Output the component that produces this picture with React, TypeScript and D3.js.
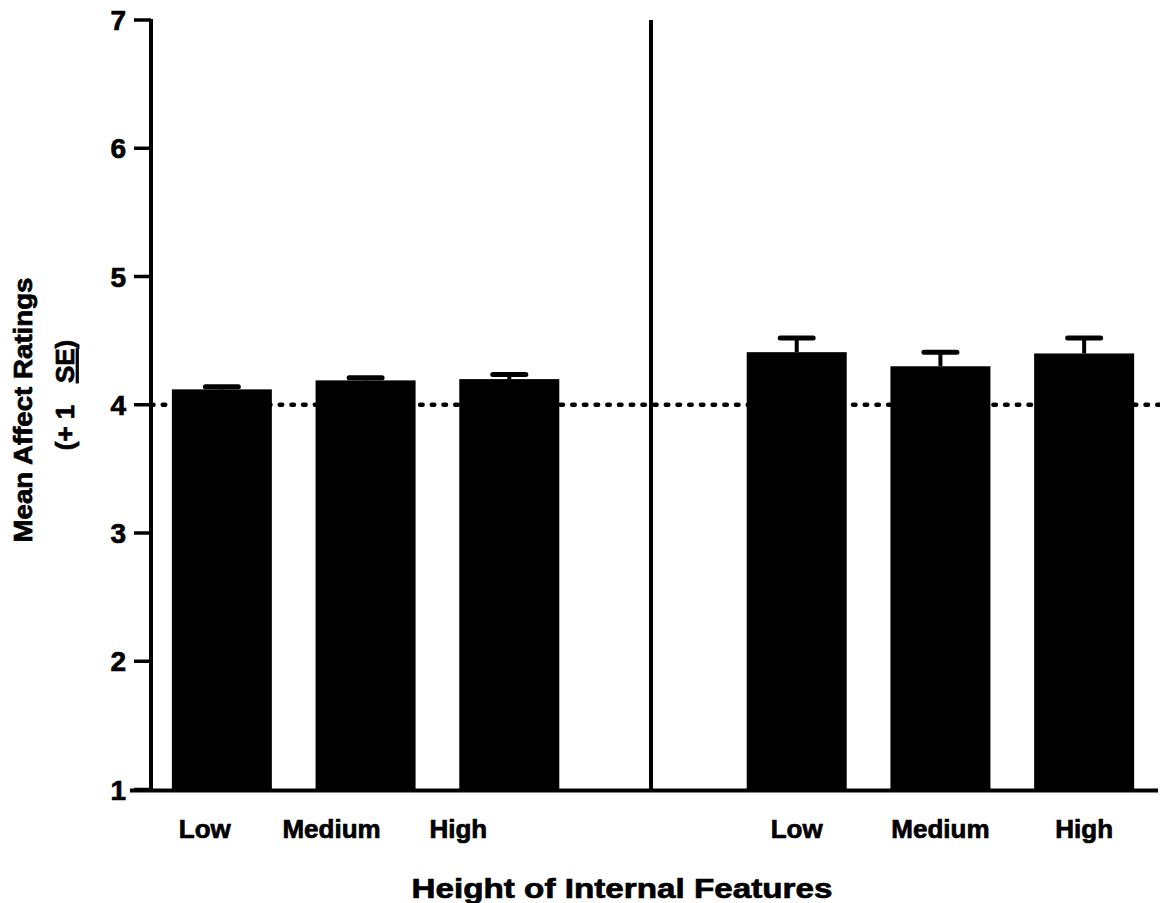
import React from "react";
import * as d3 from "d3";

// Condition labels under each bar group
const categories = ["Low", "Medium", "High"];
// Left panel: means and standard errors
const leftMeans = [4.12, 4.19, 4.2];
const leftSE = [0.02, 0.02, 0.035];
// Right panel: means and standard errors
const rightMeans = [4.41, 4.3, 4.4];
const rightSE = [0.11, 0.11, 0.12];
// Y-axis ticks and reference level
const yTicks = [1, 2, 3, 4, 5, 6, 7];
const referenceLevel = 4;

const W = 1160;
const H = 903;
const FONT = "'Liberation Sans', Arial, sans-serif";

export default function App() {
  // Seven slots: three bars, a divider slot, three bars
  const slots = ["L-Low", "L-Medium", "L-High", "divider", "R-Low", "R-Medium", "R-High"];
  const x = d3.scalePoint<string>().domain(slots).range([150, 1156]).padding(0.5);
  const y = d3.scaleLinear().domain([1, 7]).range([789.5, 20]);
  const barW = 100;
  const capW = 33;

  const bars = [
    ...categories.map((c, i) => ({ key: "L-" + c, label: c, mean: leftMeans[i], se: leftSE[i], shift: [-17, -34, -51][i] })),
    ...categories.map((c, i) => ({ key: "R-" + c, label: c, mean: rightMeans[i], se: rightSE[i], shift: 0 })),
  ];

  const axisX = 151;
  const baseY = y(1);
  const dividerX = x("divider")! - 2;
  // heavy text weight
  const textStroke = { stroke: "#000", strokeWidth: 0.7 };

  return (
    <svg
      width={W}
      height={H}
      style={{ position: "absolute", left: 0, top: 0, display: "block", background: "#fff" }}
      fontFamily={FONT}
      fontWeight="bold"
    >
      {/* bars */}
      {bars.map((b) => {
        const cx = x(b.key)!;
        return (
          <g key={b.key}>
            <rect x={cx - barW / 2} y={y(b.mean)} width={barW} height={baseY - y(b.mean)} fill="#000" />
            <line x1={cx} x2={cx} y1={y(b.mean)} y2={y(b.mean + b.se)} stroke="#000" strokeWidth={4} />
            <line
              x1={cx - capW / 2}
              x2={cx + capW / 2}
              y1={y(b.mean + b.se)}
              y2={y(b.mean + b.se)}
              stroke="#000"
              strokeWidth={5}
              strokeLinecap="round"
            />
            <text x={cx + b.shift} y={838} textAnchor="middle" fontSize={26} {...textStroke}>
              {b.label}
            </text>
          </g>
        );
      })}

      {/* dotted reference line */}
      <line
        x1={axisX}
        x2={W}
        y1={y(referenceLevel)}
        y2={y(referenceLevel)}
        stroke="#000"
        strokeWidth={4.5}
        strokeDasharray="2.5 9.2"
        strokeLinecap="round"
      />

      {/* y axis */}
      <line x1={axisX} x2={axisX} y1={y(7) - 1} y2={baseY} stroke="#000" strokeWidth={4} />
      {yTicks.map((t) => (
        <g key={t}>
          <line x1={134} x2={axisX} y1={y(t)} y2={y(t)} stroke="#000" strokeWidth={3.5} />
          <text x={126} y={y(t)} dy="0.36em" textAnchor="end" fontSize={28} {...textStroke}>
            {t}
          </text>
        </g>
      ))}

      {/* panel divider */}
      <line x1={dividerX} x2={dividerX} y1={y(7)} y2={baseY} stroke="#000" strokeWidth={4} />

      {/* baseline */}
      <line x1={130} x2={1158} y1={baseY + 1} y2={baseY + 1} stroke="#000" strokeWidth={4} />

      {/* axis titles */}
      <text
        x={622}
        y={898}
        textAnchor="middle"
        fontSize={28}
        textLength={421}
        lengthAdjust="spacingAndGlyphs"
        {...textStroke}
      >
        Height of Internal Features
      </text>
      <g transform="translate(32,410) rotate(-90)">
        <text
          x={0}
          y={0}
          textAnchor="middle"
          fontSize={26}
          textLength={265}
          lengthAdjust="spacingAndGlyphs"
          {...textStroke}
        >
          Mean Affect Ratings
        </text>
      </g>
      <g transform="translate(74,395) rotate(-90)">
        <text x={0} y={0} textAnchor="middle" fontSize={26} xmlSpace="preserve" {...textStroke}>
          {"(+ 1   "}
          <tspan textDecoration="underline">SE</tspan>
          {")"}
        </text>
      </g>
    </svg>
  );
}
